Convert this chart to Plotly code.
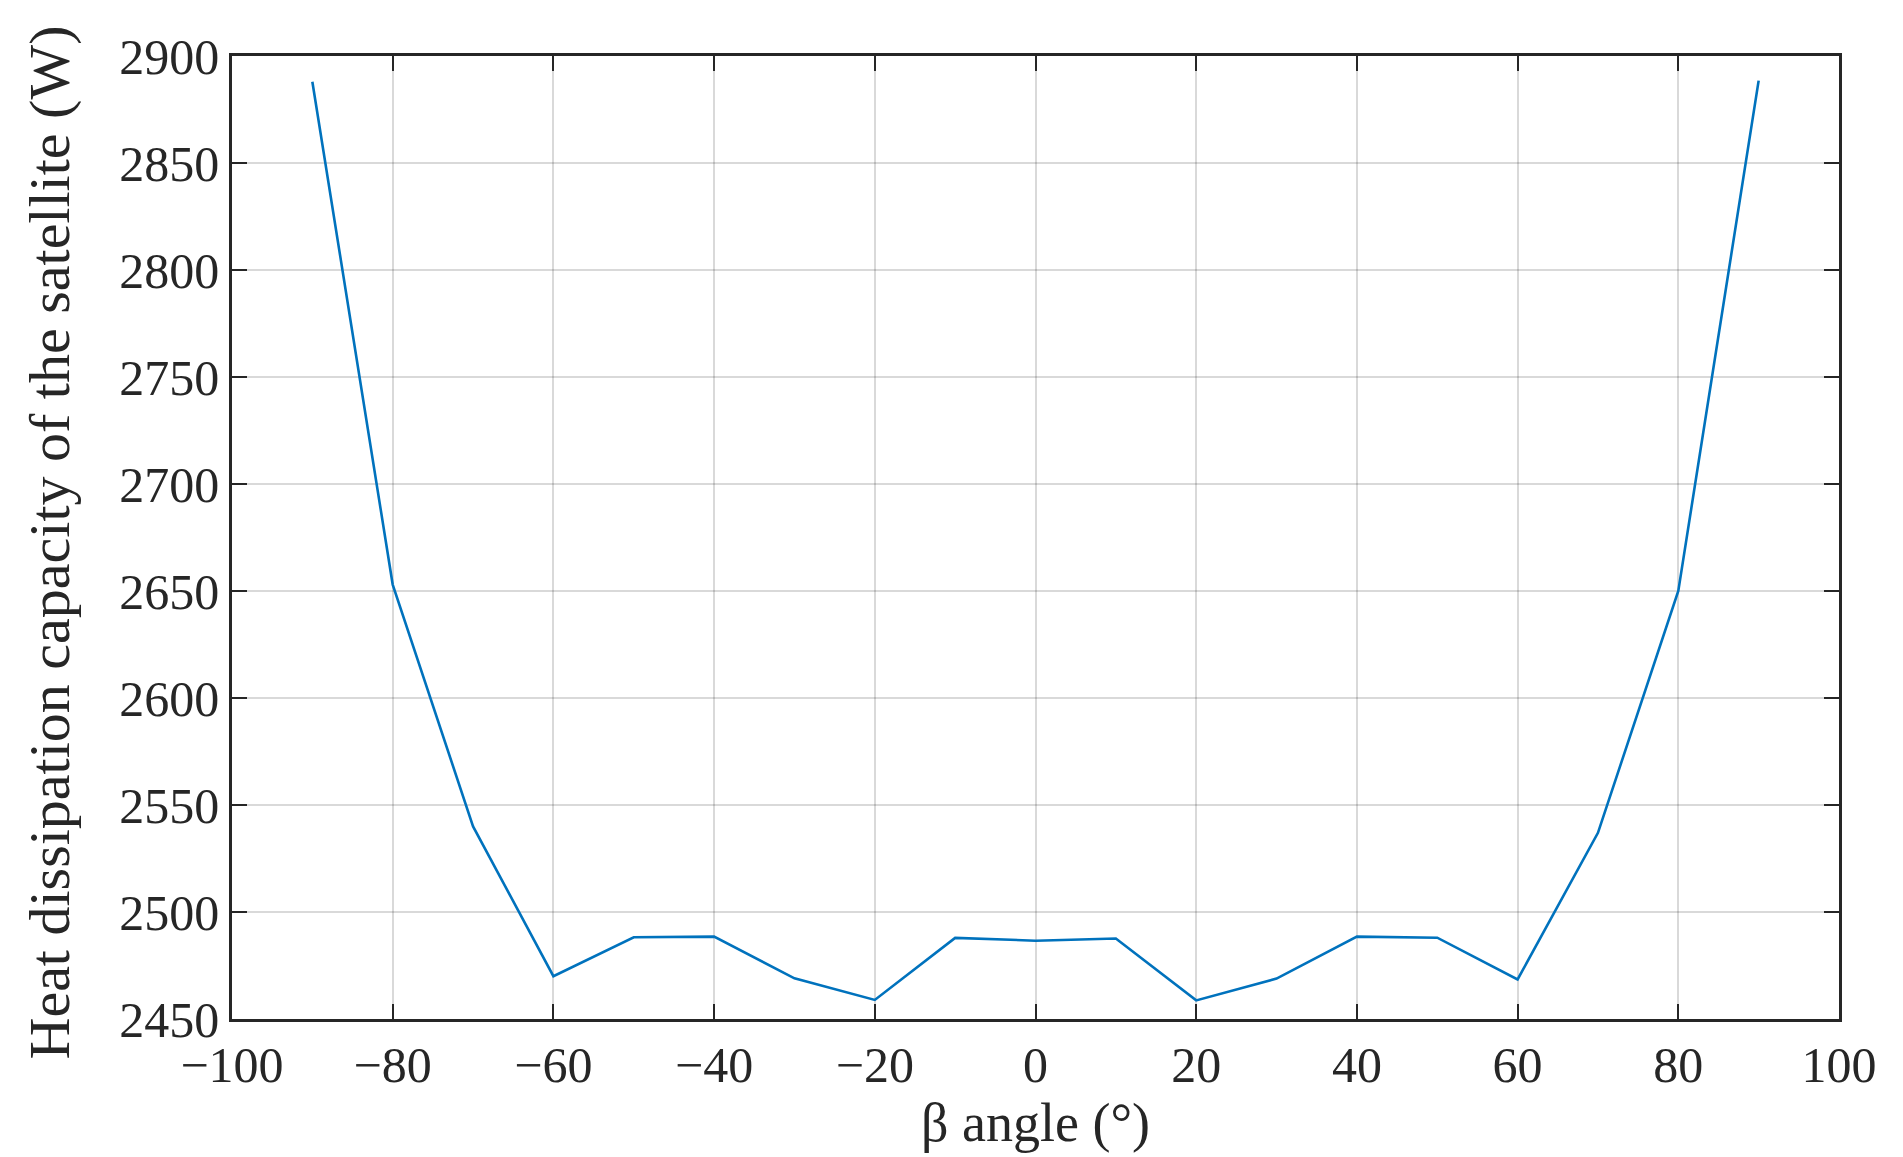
import plotly.graph_objects as go

beta_angle = [-90, -80, -70, -60, -50, -40, -30, -20, -10, 0, 10, 20, 30, 40, 50, 60, 70, 80, 90]
heat_dissipation = [2888, 2653, 2540, 2470, 2488.2, 2488.5, 2469, 2458.9, 2487.9, 2486.6, 2487.6,
                    2458.7, 2468.9, 2488.5, 2488, 2468.5, 2537, 2650, 2888.5]

x_ticks = [-100, -80, -60, -40, -20, 0, 20, 40, 60, 80, 100]
y_ticks = [2450, 2500, 2550, 2600, 2650, 2700, 2750, 2800, 2850, 2900]

FONT = "Liberation Serif"
AX = "#262626"

fig = go.Figure()
fig.add_trace(go.Scatter(
    x=beta_angle, y=heat_dissipation, mode="lines",
    line=dict(color="#0072BD", width=2.6), showlegend=False,
))

axis_common = dict(
    showline=True, linecolor=AX, linewidth=2.5, mirror="allticks",
    ticks="inside", ticklen=15, tickwidth=2, tickcolor=AX,
    showgrid=True, gridcolor="rgba(0,0,0,0.15)", gridwidth=2,
    zeroline=False,
    tickfont=dict(family=FONT, size=50, color=AX),
)

L, R, T, B = 224, 72, 48, 146
W, H = 1903, 1157
pw = W - L - R
ph = H - T - B

fig.update_layout(
    width=W, height=H,
    paper_bgcolor="white", plot_bgcolor="white",
    margin=dict(l=L, r=R, t=T, b=B),
    font=dict(family=FONT, color=AX),
    xaxis=dict(
        range=[-100, 100], tickvals=x_ticks,
        ticktext=[("\u2212" + str(-v)) if v < 0 else str(v) for v in x_ticks],
        **axis_common,
    ),
    yaxis=dict(
        range=[2450, 2900], tickvals=y_ticks, ticktext=[str(v) for v in y_ticks],
        **axis_common,
    ),
    annotations=[
        dict(text="\u03b2 angle (\u00b0)", xref="paper", yref="paper",
             x=0.5, y=-104 / ph, xanchor="center", yanchor="middle", showarrow=False,
             font=dict(family=FONT, size=54, color=AX)),
        dict(text="Heat dissipation capacity of the satellite (W)", xref="paper", yref="paper",
             x=-(231 - 48) / pw, y=0.5 - 5 / ph, xanchor="center", yanchor="middle", showarrow=False,
             textangle=-90, font=dict(family=FONT, size=58, color=AX)),
    ],
)

fig.write_html("out.html")
